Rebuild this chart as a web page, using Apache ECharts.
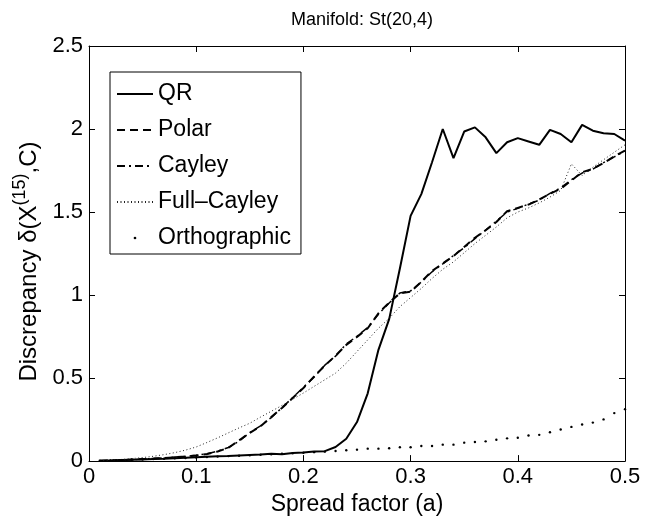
<!DOCTYPE html>
<html>
<head>
<meta charset="utf-8">
<script src="https://cdn.jsdelivr.net/npm/echarts@6/dist/echarts.min.js"></script>
<style>
  html, body { margin: 0; padding: 0; background: #fff; }
  #main { width: 655px; height: 521px; }
</style>
</head>
<body>
<div id="main"></div>
<script>
// spread factor a (x axis)
var spread = [0.01, 0.02, 0.03, 0.04, 0.05, 0.06, 0.07, 0.08, 0.09, 0.10,
              0.11, 0.12, 0.13, 0.14, 0.15, 0.16, 0.17, 0.18, 0.19, 0.20,
              0.21, 0.22, 0.23, 0.24, 0.25, 0.26, 0.27, 0.28, 0.29, 0.30,
              0.31, 0.32, 0.33, 0.34, 0.35, 0.36, 0.37, 0.38, 0.39, 0.40,
              0.41, 0.42, 0.43, 0.44, 0.45, 0.46, 0.47, 0.48, 0.49, 0.50];

var qr = [0.002, 0.004, 0.006, 0.008, 0.010, 0.012, 0.014, 0.017, 0.020, 0.023,
          0.026, 0.029, 0.031, 0.034, 0.037, 0.040, 0.044, 0.041, 0.049, 0.052,
          0.058, 0.060, 0.085, 0.135, 0.235, 0.408, 0.670, 0.855, 1.160, 1.477,
          1.608, 1.800, 2.000, 1.825, 1.985, 2.010, 1.950, 1.855, 1.920, 1.945,
          1.925, 1.905, 1.995, 1.970, 1.920, 2.025, 1.990, 1.975, 1.970, 1.930];

var polar = [0.002, 0.004, 0.006, 0.009, 0.012, 0.015, 0.019, 0.023, 0.028, 0.034,
             0.043, 0.058, 0.080, 0.125, 0.170, 0.210, 0.265, 0.320, 0.380, 0.440,
             0.510, 0.575, 0.635, 0.700, 0.748, 0.800, 0.890, 0.955, 1.010, 1.020,
             1.080, 1.145, 1.190, 1.235, 1.290, 1.345, 1.390, 1.440, 1.505, 1.525,
             1.545, 1.575, 1.610, 1.640, 1.690, 1.740, 1.760, 1.795, 1.835, 1.870];

var cayley = [0.002, 0.004, 0.006, 0.009, 0.012, 0.015, 0.019, 0.024, 0.029, 0.035,
              0.044, 0.060, 0.082, 0.120, 0.172, 0.212, 0.262, 0.322, 0.382, 0.445,
              0.505, 0.578, 0.632, 0.705, 0.752, 0.805, 0.885, 0.952, 1.012, 1.025,
              1.078, 1.140, 1.188, 1.238, 1.285, 1.340, 1.392, 1.445, 1.500, 1.522,
              1.548, 1.572, 1.612, 1.645, 1.695, 1.735, 1.758, 1.798, 1.832, 1.868];

var fullCayley = [0.003, 0.006, 0.010, 0.015, 0.021, 0.029, 0.039, 0.051, 0.066, 0.085,
                  0.112, 0.140, 0.170, 0.200, 0.228, 0.265, 0.300, 0.335, 0.372, 0.410,
                  0.450, 0.490, 0.530, 0.590, 0.660, 0.730, 0.800, 0.860, 0.930, 0.985,
                  1.040, 1.100, 1.155, 1.200, 1.255, 1.310, 1.360, 1.410, 1.465, 1.500,
                  1.525, 1.555, 1.590, 1.630, 1.790, 1.720, 1.770, 1.815, 1.860, 1.905];

var ortho = [0.002, 0.004, 0.006, 0.008, 0.010, 0.012, 0.014, 0.017, 0.019, 0.022,
             0.025, 0.027, 0.030, 0.032, 0.035, 0.038, 0.041, 0.044, 0.047, 0.050,
             0.054, 0.057, 0.061, 0.065, 0.069, 0.075, 0.075, 0.077, 0.083, 0.083,
             0.091, 0.091, 0.099, 0.099, 0.111, 0.115, 0.119, 0.129, 0.137, 0.141,
             0.154, 0.158, 0.174, 0.190, 0.206, 0.220, 0.232, 0.251, 0.289, 0.313];

var seriesNames = ['QR', 'Polar', 'Cayley', 'Full\u2013Cayley', 'Orthographic'];

var FONT = '"Liberation Sans", Arial, Helvetica, sans-serif';

function pairs(ys) {
  return spread.map(function (x, i) { return [x, ys[i]]; });
}

var myChart = echarts.init(document.getElementById('main'), null, { renderer: 'canvas' });

// tiny centred dot inside a 10x10 box so the legend dot stays small
var dot = 'path://M0,0M10,10M6.2,5A1.2,1.2,0,1,1,3.8,5A1.2,1.2,0,1,1,6.2,5Z';

var axisCommon = {
  axisLine: { show: true, onZero: false, lineStyle: { color: '#000', width: 1 } },
  axisTick: { show: true, inside: true, length: 6, lineStyle: { color: '#000' } },
  splitLine: { show: false }
};

myChart.setOption({
  animation: false,
  backgroundColor: '#fff',
  title: {
    text: 'Manifold: St(20,4)',
    left: 357, top: 6, textAlign: 'center',
    textStyle: { fontFamily: FONT, fontSize: 18, fontWeight: 'normal', color: '#000' }
  },
  grid: { left: 89, right: 30, top: 46, bottom: 54 },
  legend: {
    orient: 'vertical',
    left: 110, top: 72,
    itemWidth: 36, itemHeight: 14, itemGap: 12,
    padding: [10, 10, 4, 6],
    borderColor: '#000', borderWidth: 1, borderRadius: 0,
    backgroundColor: '#fff',
    textStyle: { fontFamily: FONT, fontSize: 23, color: '#000', lineHeight: 24 },
    itemStyle: { opacity: 0 },
    data: [
      seriesNames[0], seriesNames[1], seriesNames[2], seriesNames[3],
      { name: seriesNames[4], itemStyle: { opacity: 1 }, lineStyle: { opacity: 0 } }
    ]
  },
  xAxis: [
    Object.assign({
      type: 'value', min: 0, max: 0.5, interval: 0.1,
      name: 'Spread factor (a)', nameLocation: 'middle', nameGap: 31,
      nameTextStyle: { fontFamily: FONT, fontSize: 23, color: '#000' },
      axisLabel: { fontFamily: FONT, fontSize: 22, color: '#000', margin: 5 }
    }, axisCommon),
    Object.assign({
      type: 'value', min: 0, max: 0.5, interval: 0.1, position: 'top',
      axisLabel: { show: false }
    }, axisCommon)
  ],
  yAxis: [
    Object.assign({
      type: 'value', min: 0, max: 2.5, interval: 0.5,
      name: '{a|Discrepancy \u03b4(X}{b|(15)}{a|,C)}',
      nameLocation: 'middle', nameGap: 42, nameRotate: 90,
      nameTextStyle: {
        fontFamily: FONT, fontSize: 24, color: '#000',
        padding: [0, 16, 0, 0],
        rich: {
          a: { fontFamily: FONT, fontSize: 24, color: '#000', lineHeight: 30, verticalAlign: 'bottom' },
          b: { fontFamily: FONT, fontSize: 18, color: '#000', lineHeight: 30, verticalAlign: 'top' }
        }
      },
      axisLabel: { fontFamily: FONT, fontSize: 22, color: '#000', margin: 6 }
    }, axisCommon),
    Object.assign({
      type: 'value', min: 0, max: 2.5, interval: 0.5, position: 'right',
      axisLabel: { show: false }
    }, axisCommon)
  ],
  series: [
    {
      name: seriesNames[0], type: 'line', data: pairs(qr),
      symbol: 'none', lineStyle: { color: '#000', width: 2 }, itemStyle: { color: '#000' }
    },
    {
      name: seriesNames[1], type: 'line', data: pairs(polar),
      symbol: 'none', lineStyle: { color: '#000', width: 2, type: [8, 5] }, itemStyle: { color: '#000' }
    },
    {
      name: seriesNames[2], type: 'line', data: pairs(cayley),
      symbol: 'none', lineStyle: { color: '#000', width: 1.5, type: [8, 4, 2, 4] }, itemStyle: { color: '#000' }
    },
    {
      name: seriesNames[3], type: 'line', data: pairs(fullCayley),
      symbol: 'none', lineStyle: { color: '#222', width: 1, type: [1, 2.5] }, itemStyle: { color: '#222' }
    },
    {
      name: seriesNames[4], type: 'line', data: pairs(ortho),
      symbol: dot, symbolSize: 10, showSymbol: true,
      lineStyle: { width: 0, opacity: 0 }, itemStyle: { color: '#000' }
    }
  ]
});
</script>
</body>
</html>
